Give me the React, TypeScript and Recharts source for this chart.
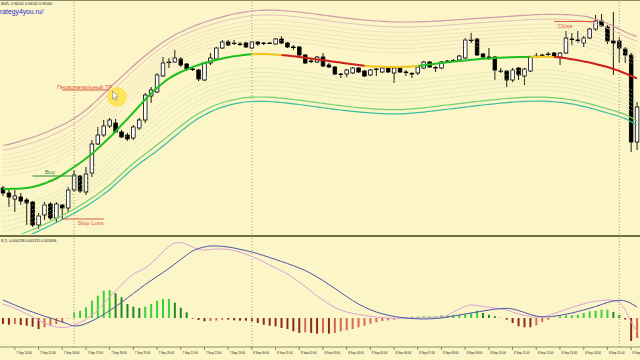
import React from "react";
import {
  ComposedChart,
  Bar,
  Line,
  XAxis,
  YAxis,
  ReferenceLine,
  ReferenceDot,
  Cell,
} from "recharts";

// M15 candles, 7 Sep 13:30 .. 8 Sep 16:15 (values in points)
const CANDLE_OPEN = [
  52, 47, 41, 43, 40, 38, 15, 25, 36, 22,
  35, 32, 50, 64, 48, 67, 96, 105, 114, 117,
  108, 105, 102, 112, 120, 144, 148, 164, 177.5, 178,
  181, 176, 171, 170, 160, 177, 181, 192, 198, 197,
  196, 197, 192, 198, 197, 197, 196, 201, 197, 193,
  193, 185, 179, 178, 183, 175, 173, 166, 166, 167,
  172, 169, 165, 171, 168, 172, 167, 172, 168, 166,
  167, 172, 178, 172, 172, 179, 179, 180, 182, 200,
  201, 186, 183, 183, 169, 169, 160, 172, 164, 169,
  184, 185, 186, 187, 183, 187, 201, 200, 197, 202,
  211, 219, 213, 199, 199, 191, 185, 98,
];
const CANDLE_HIGH = [
  54, 50, 50, 47, 42, 39, 27, 38, 38, 38,
  36, 53, 70, 65, 73, 100, 113, 120, 122, 121,
  110, 107, 115, 122, 147, 153, 167, 183, 182, 190,
  183, 177, 172.5, 171, 178, 187, 193, 200, 200, 200,
  198, 198, 199, 198.5, 198, 198, 202, 204, 198, 195,
  194, 186, 181, 184, 187, 177, 174, 167, 171, 173,
  173, 170, 171, 172, 173, 172.5, 173, 173, 170, 168,
  173.5, 179, 179, 174, 179, 180, 181, 185, 202, 207,
  202, 187, 192, 184, 172, 170, 172, 173, 172, 183.5,
  187, 186, 188, 188, 188, 209, 207, 209, 204, 212,
  225, 226, 215, 228, 203, 193, 187, 138,
];
const CANDLE_LOW = [
  44, 33, 28, 35, 15, 13, 11, 20, 20, 18,
  20, 28, 48, 47, 45, 63, 95, 103, 112, 107,
  102, 99, 100, 110, 117, 137, 147, 163, 172, 177,
  173, 169, 169, 159, 159, 175, 180, 191, 194, 195,
  194, 192, 191, 194, 195, 196, 195.5, 196, 192, 190,
  184, 176, 177, 177, 173, 172, 165, 162, 163, 166,
  167, 163, 164, 164, 167, 167, 157, 167, 164, 162,
  165, 171, 172, 168, 171, 178, 178, 179, 181, 197,
  184, 182, 180, 160, 167, 153, 158, 160, 155, 168,
  182, 183, 183, 183, 175, 186, 195, 197, 193, 201,
  209, 213, 196, 165, 177, 177, 88, 90,
];
const CANDLE_CLOSE = [
  47, 43, 44, 39, 37, 15, 24, 35, 22, 36,
  32, 50, 65, 49, 66, 96, 105, 114, 120, 108,
  103, 101, 113, 120, 145, 150, 165, 177, 178, 182,
  175, 171, 170.5, 161, 177, 182, 192, 198, 195, 196.5,
  195.5, 193, 198, 196, 197, 197, 201, 197, 193, 192.5,
  185, 177, 178.5, 183, 174, 173, 166, 166, 170, 172,
  168, 164, 170, 170.5, 172, 168, 172, 168, 168, 166.5,
  173, 178, 173, 172.5, 178, 179, 179.5, 184, 200, 200,
  185, 183, 183, 170, 169, 160, 170, 165, 171, 183,
  184, 185, 186, 184, 187, 202, 201, 200, 202, 211,
  219, 214, 199, 197, 192, 185, 98, 133,
];

// channel: middle line and outer borders
const CHANNEL_MID = [
  51, 51, 51.2, 51.5, 52, 53, 54.5, 56.5, 59, 61.5,
  65, 69, 73, 77, 81.5, 86, 91.5, 97, 102.5, 108.5,
  115, 121, 127.5, 134, 140.5, 146.5, 152, 157, 161.5, 165,
  168, 170.5, 173, 175, 177, 178.5, 180, 181.5, 182.7, 183.7,
  184.5, 185.2, 185.7, 186, 186, 185.8, 185.5, 185, 184.4, 183.7,
  183, 182.2, 181.4, 180.6, 179.8, 179, 178.2, 177.4, 176.6, 175.8,
  175, 174.3, 173.8, 173.4, 173.2, 173, 173, 173, 173.2, 173.5,
  174, 174.7, 175.5, 176.3, 177, 177.7, 178.4, 179, 179.6, 180.2,
  180.7, 181.2, 181.6, 182, 182.3, 182.6, 182.8, 183, 183.1, 183.2,
  183.3, 183.3, 183.2, 183, 182.5, 181.7, 180.7, 179.7, 178.6, 177.5,
  176, 174.5, 173, 171, 169, 166.7, 164, 161.5,
];
const CHANNEL_UPPER = [
  94.5, 95.7, 97.2, 99, 100.8, 102.7, 104.8, 107, 109.5, 112.2,
  115, 118, 121.5, 125.5, 130, 135, 140.5, 146.2, 152, 157.7,
  163, 168.5, 174, 179.2, 184.2, 189, 193.5, 197.7, 201.5, 205,
  208, 210.8, 213.3, 215.6, 217.7, 219.7, 221.5, 223.2, 224.7, 226,
  227.2, 228.2, 229, 229.5, 229.8, 229.9, 229.8, 229.5, 229, 228.5,
  227.9, 227.2, 226.5, 225.7, 224.9, 224.1, 223.3, 222.6, 221.9, 221.2,
  220.6, 220, 219.5, 219, 218.6, 218.3, 218.1, 218, 218, 218,
  218.1, 218.3, 218.5, 218.8, 219.1, 219.5, 219.9, 220.3, 220.7, 221.1,
  221.5, 221.9, 222.3, 222.7, 223.1, 223.5, 223.9, 224.3, 224.7, 225,
  225.3, 225.5, 225.6, 225.6, 225.5, 225.3, 225, 224.5, 223.8, 222.7,
  221, 219, 216.5, 213.7, 211, 208, 205.5, 203.5,
];
const CHANNEL_LOWER = [
  -1, 1, 3, 5.5, 8, 10.5, 13, 15.7, 18.5, 21.5,
  24.5, 27.7, 31, 34.5, 38, 42, 46, 50.5, 55, 60.5,
  66, 71.5, 76.7, 81.5, 86, 90.5, 95, 99.7, 104.5, 109.3,
  114, 118.5, 122.7, 126.5, 129.8, 132.7, 135.2, 137.3, 139, 140.4,
  141.5, 142.3, 142.8, 143, 143, 142.8, 142.4, 141.8, 141.2, 140.5,
  139.8, 139, 138.2, 137.4, 136.6, 135.8, 135, 134.3, 133.6, 133,
  132.4, 131.8, 131.3, 130.9, 130.6, 130.4, 130.3, 130.4, 130.7, 131.1,
  131.6, 132.2, 132.9, 133.6, 134.3, 135, 135.7, 136.4, 137.1, 137.8,
  138.5, 139.2, 139.8, 140.4, 141, 141.5, 141.9, 142.3, 142.6, 142.8,
  142.9, 142.9, 142.7, 142.3, 141.7, 141, 140.1, 139, 137.7, 136.2,
  134.6, 132.9, 131.2, 129.5, 127.7, 125.5, 122.5, 119,
];
// trend colour of the middle line: [from bar, to bar, state]
const MID_TREND: [number, number, string][] = [
  [0, 42, "up"],
  [42, 47, "flat"],
  [47, 61, "down"],
  [61, 70, "flat"],
  [70, 89, "up"],
  [89, 93, "flat"],
  [93, 107, "down"],
];
// inner channel levels, share of the distance mid -> border
const UPPER_INNER = 0.89;
const UPPER_LEVELS = [0.32, 0.41, 0.5, 0.59, 0.68, 0.77];
const LOWER_LEVELS = [0.33, 0.43, 0.53, 0.63, 0.73, 0.83];
const LOWER_OUTER = 1.1;

// MACD window
const MACD_MAIN = [
  14, 12, 9.5, 7, 4, 1, -2, -5, -7.5, -9,
  -9.5, -9, -7, -4.5, -1.5, 3, 8, 14.5, 21, 27,
  33, 39, 44, 47, 50, 54.5, 60, 66, 71.5, 75,
  75.5, 73.5, 71, 68.5, 68, 68.5, 69, 69, 68.5, 67.5,
  66, 64, 61.5, 59, 56, 53, 50, 47, 44, 40,
  36, 31.5, 27, 22, 18, 14, 10.5, 8, 6, 4.5,
  3.5, 2.5, 1.7, 1, 0.5, 0, -0.3, -0.5, -0.3, 0,
  0, 0.2, 0.5, 0.8, 1.2, 2.5, 6, 9, 11.5, 13,
  12.5, 11.5, 10.8, 10, 9, 8, 6, 4, 2.7, 1.5,
  1, 1, 2.5, 4.5, 6.5, 8.5, 10.5, 12.5, 14.2, 15.7,
  16.8, 17.5, 18, 17.5, 15.5, 8, -4, -13,
];
const MACD_SIGNAL = [
  18, 15.5, 13, 10.5, 8.2, 6, 3.8, 1.8, 0, -2,
  -4, -6, -8, -7.5, -5.5, -3, 0, 3.5, 7.5, 11.5,
  15.5, 20, 24.5, 29, 33.5, 37.5, 41.5, 45.5, 49.5, 54,
  58.5, 63, 67, 69.5, 71, 72, 72, 71.7, 71, 70,
  68.7, 67.4, 66, 64.3, 62.5, 60.5, 58.5, 56.5, 54.5, 52.3,
  50, 47.5, 44.5, 41, 37.5, 33.5, 29.5, 25.5, 21.5, 17.5,
  14, 11, 8.3, 6, 4.2, 2.8, 1.6, 0.7, 0, -0.5,
  -0.8, -1, -0.8, -0.5, 0, 1, 2, 3, 4, 5,
  6, 7, 8, 8.8, 9.4, 9.7, 9, 7.5, 5.5, 3.5,
  2, 1.2, 1.2, 1.8, 2.7, 3.8, 5, 6.5, 8, 9.7,
  11.5, 13.5, 15.5, 17, 17.7, 17, 14.5, 11,
];
const MACD_HIST = [
  -6, -6.7, -6, -7, -7.7, -8.7, -11, -9.3, -7.7, -6,
  -4.7, -0.5, 5.7, 7.3, 10.7, 17.3, 22.3, 27.3, 28, 24.7,
  20.7, 14, 11.3, 10, 11.3, 14, 17.3, 19, 19, 15.3,
  10.3, 5.7, -0.7, -2, -3.3, -3, -2.5, -1.7, -1.7, -2.3,
  -2.7, -2.7, -3.3, -5, -6.7, -7.7, -8.3, -10, -11, -13.3,
  -15, -14.3, -15, -15.7, -15, -15.7, -15, -13.3, -12.3, -11,
  -9.3, -7.7, -5.7, -4.3, -3, -2.3, -1.7, -1, 1, 1.3,
  1.3, 1.7, 1.7, 1.7, 2.7, 2.7, 3.3, 3.3, 4, 5,
  7.3, 5, 3.3, 1.7, 0.3, -1.7, -5, -8.3, -9.3, -9.3,
  -7.3, -4, -1.7, 0.3, 1.7, 2.7, 2.7, 3.3, 5, 6.7,
  7.3, 8.3, 8.3, 6, 3, -1.5, -23, -20,
];

const HOUR_LABELS = [
  "7 Sep 14:00", "7 Sep 15:00", "7 Sep 16:00", "7 Sep 17:00", "7 Sep 18:00",
  "7 Sep 19:00", "7 Sep 20:00", "7 Sep 21:00", "7 Sep 22:00", "7 Sep 23:00",
  "8 Sep 00:00", "8 Sep 01:00", "8 Sep 02:00", "8 Sep 03:00", "8 Sep 04:00",
  "8 Sep 05:00", "8 Sep 06:00", "8 Sep 07:00", "8 Sep 08:00", "8 Sep 09:00",
  "8 Sep 10:00", "8 Sep 11:00", "8 Sep 12:00", "8 Sep 13:00", "8 Sep 14:00",
  "8 Sep 15:00", "8 Sep 16:00",
];
const FIRST_HOUR_BAR = 2;
const BARS_PER_HOUR = 4;
const SEPARATOR_BARS = [12, 42, 104];

const BG = "#FBF5C8";
const FONT = "'Liberation Sans', Arial, sans-serif";
const MID_COLORS: Record<string, string> = {
  up: "#1FBF1F",
  flat: "#F2C414",
  down: "#CC1F1A",
};
const NOTE_RED = "#DC5A3A";

const priceRows = CANDLE_OPEN.map((open, i) => {
  const mid = CHANNEL_MID[i];
  const up = CHANNEL_UPPER[i];
  const dn = CHANNEL_LOWER[i];
  const row: any = {
    i,
    o: open,
    h: CANDLE_HIGH[i],
    l: CANDLE_LOW[i],
    c: CANDLE_CLOSE[i],
    range: [CANDLE_LOW[i], CANDLE_HIGH[i]],
    upper: up,
    upper2: mid + (up - mid) * UPPER_INNER,
    lower: dn,
    lower2: mid - (mid - dn) * LOWER_OUTER,
  };
  UPPER_LEVELS.forEach((f, k) => {
    row[`u${k}`] = mid + (up - mid) * f;
  });
  LOWER_LEVELS.forEach((f, k) => {
    row[`d${k}`] = mid - (mid - dn) * f;
  });
  for (const [from, to, state] of MID_TREND) {
    if (i >= from && i <= to) row[`mid_${state}`] = mid;
  }
  return row;
});

const macdRows = MACD_HIST.map((hist, i) => ({
  i,
  hist,
  main: MACD_MAIN[i],
  signal: MACD_SIGNAL[i],
}));

function histColor(i: number) {
  const v = MACD_HIST[i];
  const prev = i > 0 ? MACD_HIST[i - 1] : v;
  if (v >= 0) return v >= prev ? "#39D139" : "#1E8A1E";
  return v <= prev ? "#8E2A1C" : "#D8684E";
}

function Candle(props: any) {
  const { x, y, width, height, payload } = props;
  if (!payload || x == null) return <g />;
  const top = Math.min(y, y + height);
  const h = Math.abs(height);
  const span = payload.h - payload.l || 1;
  const toPx = (v: number) => top + ((payload.h - v) / span) * h;
  const cx = x + width / 2;
  const bodyTop = toPx(Math.max(payload.o, payload.c));
  const bodyBottom = toPx(Math.min(payload.o, payload.c));
  const bull = payload.c >= payload.o;
  return (
    <g>
      <line x1={cx} x2={cx} y1={top} y2={top + h} stroke="#000" strokeWidth={0.9} />
      <rect
        x={cx - 1.8}
        y={bodyTop}
        width={3.6}
        height={Math.max(bodyBottom - bodyTop, 0.6)}
        fill={bull ? "#fff" : "#000"}
        stroke="#000"
        strokeWidth={0.8}
      />
    </g>
  );
}

function CursorMark(props: any) {
  const { cx, cy } = props;
  if (cx == null) return <g />;
  const tx = cx - 3;
  const ty = cy - 6;
  return (
    <g>
      <circle cx={cx + 1.5} cy={cy} r={10} fill="#FFE24A" fillOpacity={0.85} />
      <path
        d={`M${tx},${ty} l0,8 l1.8,-1.7 l1.4,3 l1.3,-0.6 l-1.4,-2.9 l2.5,0 z`}
        fill="#fff"
        stroke="#777"
        strokeWidth={0.6}
      />
    </g>
  );
}

function note(text: string, color: string, dx: number, dy: number, anchor = "start") {
  return (props: any) => {
    const vb = props.viewBox || {};
    return (
      <text
        x={(vb.x ?? 0) + dx}
        y={(vb.y ?? 0) + dy}
        fill={color}
        fontSize={5.8}
        fontFamily={FONT}
        textAnchor={anchor}
      >
        {text}
      </text>
    );
  };
}

function TimeTick(props: any) {
  const { x, y, payload } = props;
  const i = Number(payload?.value);
  const k = (i - FIRST_HOUR_BAR) / BARS_PER_HOUR;
  if (!Number.isInteger(k) || k < 0 || k >= HOUR_LABELS.length) return <g />;
  return (
    <g>
      <line x1={x} x2={x} y1={y} y2={y + 3} stroke="#444" strokeWidth={0.6} />
      <text x={x + 1.5} y={y + 6.8} fontSize={2.9} fill="#222" fontFamily={FONT}>
        {HOUR_LABELS[k]}
      </text>
    </g>
  );
}

const lineBase = {
  dot: false,
  activeDot: false,
  isAnimationActive: false,
  type: "monotone" as const,
};

export default function App() {
  return (
    <div
      style={{
        position: "absolute",
        left: 0,
        top: 0,
        width: 640,
        height: 360,
        background: BG,
        overflow: "hidden",
        fontFamily: FONT,
      }}
    >
      <div style={{ position: "absolute", left: 0, top: 0 }}>
        <ComposedChart
          width={640}
          height={234}
          data={priceRows}
          margin={{ top: 0, right: 0, bottom: 0, left: 0 }}
        >
          <XAxis dataKey="i" hide />
          <YAxis hide domain={[6, 240]} allowDataOverflow />
          {SEPARATOR_BARS.map((b) => (
            <ReferenceLine key={b} x={b} stroke="#9C9A80" strokeDasharray="1 2" />
          ))}
          {UPPER_LEVELS.map((_, k) => (
            <Line key={`u${k}`} {...lineBase} dataKey={`u${k}`} stroke="#D8BBAE" strokeWidth={0.8} strokeDasharray="1 1.5" />
          ))}
          {LOWER_LEVELS.map((_, k) => (
            <Line key={`d${k}`} {...lineBase} dataKey={`d${k}`} stroke="#B6D6A2" strokeWidth={0.8} strokeDasharray="1 1.5" />
          ))}
          <Line {...lineBase} dataKey="upper2" stroke="#DFB9B9" strokeWidth={0.9} />
          <Line {...lineBase} dataKey="upper" stroke="#CF9AAA" strokeWidth={1.2} />
          <Line {...lineBase} dataKey="lower" stroke="#72D072" strokeWidth={1.2} />
          <Line {...lineBase} dataKey="lower2" stroke="#38BE9C" strokeWidth={1.2} />
          <Bar dataKey="range" barSize={4} shape={<Candle />} isAnimationActive={false} />
          {Object.keys(MID_COLORS).map((state) => (
            <Line key={state} {...lineBase} dataKey={`mid_${state}`} stroke={MID_COLORS[state]} strokeWidth={2} />
          ))}
          <ReferenceLine
            segment={[{ x: 10, y: 150 }, { x: 18, y: 150 }]}
            stroke={NOTE_RED}
            strokeWidth={1}
            label={note("Первоначальный TP", NOTE_RED, -5.3, -1.2)}
          />
          <ReferenceLine
            segment={[{ x: 5, y: 64 }, { x: 12, y: 64 }]}
            stroke="#2E8B2E"
            strokeWidth={1}
            label={note("Buy", "#2E8B2E", 12.5, -2.5)}
          />
          <ReferenceLine
            segment={[{ x: 10, y: 21 }, { x: 17, y: 21 }]}
            stroke={NOTE_RED}
            strokeWidth={1}
            label={note("Stop Loss", NOTE_RED, 41.4, 6.3, "end")}
          />
          <ReferenceLine
            segment={[{ x: 93, y: 218.5 }, { x: 100, y: 218.5 }]}
            stroke={NOTE_RED}
            strokeWidth={1}
            label={note("Close", NOTE_RED, 3.8, 6)}
          />
          <ReferenceDot x={19} y={143} r={9} shape={<CursorMark />} ifOverflow="visible" />
        </ComposedChart>
      </div>

      <div style={{ position: "absolute", left: 0, top: 0, width: 640, height: 1, background: "#8E8B68" }} />
      <div style={{ position: "absolute", left: 0, top: 234.5, width: 640, height: 2, background: "#6F6B45" }} />

      <div style={{ position: "absolute", left: 0, top: 237 }}>
        <ComposedChart
          width={640}
          height={123}
          data={macdRows}
          margin={{ top: 0, right: 0, bottom: 0, left: 0 }}
        >
          <XAxis
            dataKey="i"
            interval={0}
            height={13}
            tickSize={0}
            tickMargin={0}
            tickLine={false}
            axisLine={{ stroke: "#8E8B68" }}
            tick={<TimeTick />}
          />
          <YAxis hide domain={[-29, 81]} allowDataOverflow />
          {SEPARATOR_BARS.map((b) => (
            <ReferenceLine key={b} x={b} stroke="#9C9A80" strokeDasharray="1 2" />
          ))}
          <Bar dataKey="hist" barSize={2} isAnimationActive={false}>
            {macdRows.map((r) => (
              <Cell key={r.i} fill={histColor(r.i)} />
            ))}
          </Bar>
          <Line {...lineBase} dataKey="main" stroke="#DDA2D8" strokeWidth={1} />
          <Line {...lineBase} dataKey="signal" stroke="#4E55A6" strokeWidth={1} />
        </ComposedChart>
      </div>

      <svg
        width={640}
        height={360}
        style={{ position: "absolute", left: 0, top: 0, pointerEvents: "none" }}
      >
        <text x={1} y={4.6} fontSize={3.6} fill="#222" fontFamily={FONT}>
          8635, 0.96141 0.96142 0.96160
        </text>
        <text x={0} y={14} fontSize={6.8} fill="#1E2FD2" fontFamily={FONT}>
          rategy4you.ru/
        </text>
        <text x={1} y={241.5} fontSize={3.6} fill="#222" fontFamily={FONT}>
          8,7) -0.000238 0.001370 0.001608
        </text>
      </svg>
    </div>
  );
}
